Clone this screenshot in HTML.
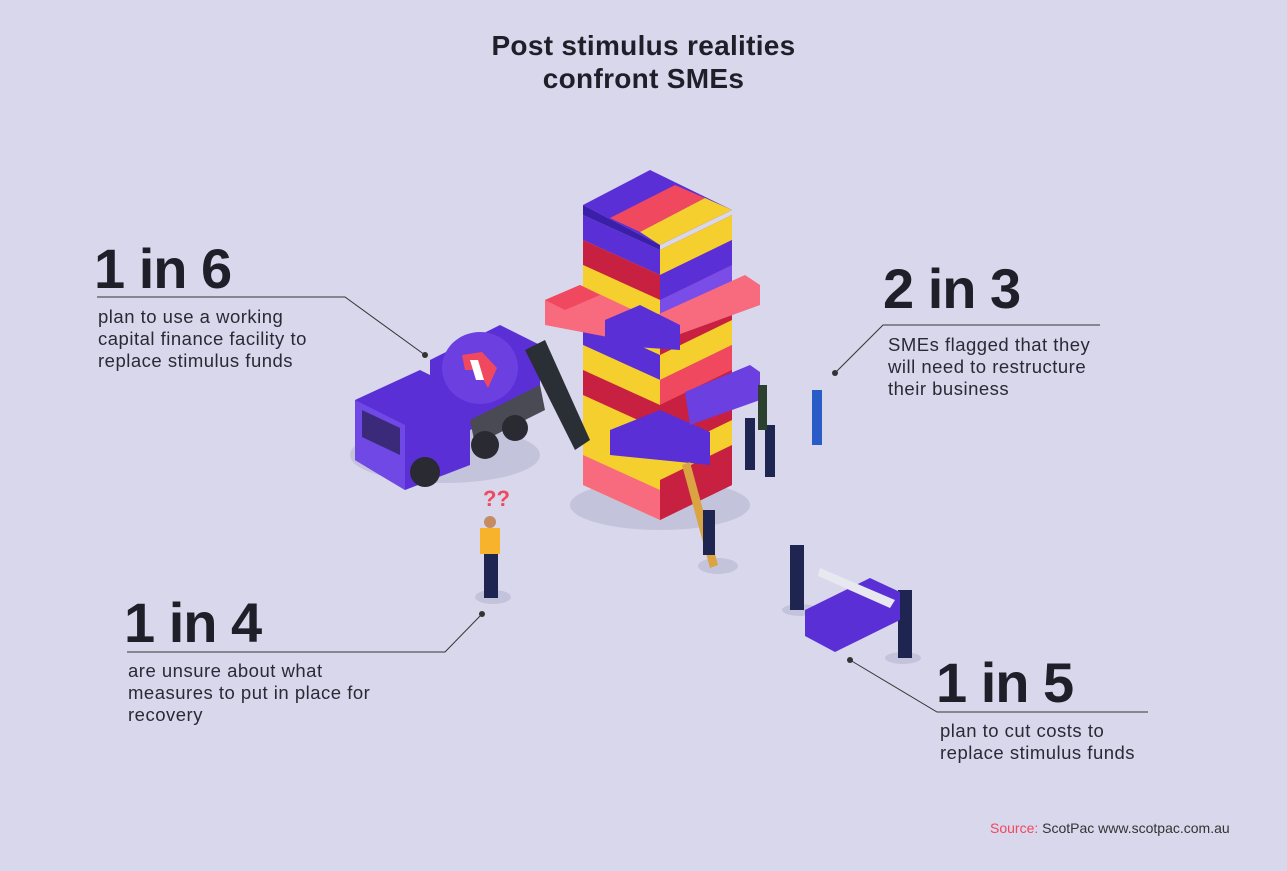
<!DOCTYPE html>
<html><head><meta charset="utf-8"><style>
body{margin:0;width:1287px;height:871px;background:#d8d7ec;font-family:"Liberation Sans",sans-serif;overflow:hidden;position:relative;color:#222}
.t{position:absolute;left:0;width:1287px;text-align:center;top:29px;font-size:28px;font-weight:bold;line-height:33px;color:#1f1f2a;letter-spacing:0.3px}
.n{position:absolute;font-size:56px;font-weight:bold;color:#1f1f2a;letter-spacing:-1px;line-height:54px}
.p{position:absolute;font-size:18.5px;line-height:22px;color:#2a2a35;letter-spacing:0.5px}
.s{position:absolute;left:990px;top:820px;font-size:14px;color:#333}
</style></head><body>
<div class="t">Post stimulus realities<br>confront SMEs</div>
<div class="n" style="left:94px;top:242px">1 in 6</div>
<div class="p" style="left:98px;top:306px">plan to use a working<br>capital finance facility to<br>replace stimulus funds</div>
<div class="n" style="left:883px;top:262px">2 in 3</div>
<div class="p" style="left:888px;top:334px">SMEs flagged that they<br>will need to restructure<br>their business</div>
<div class="n" style="left:124px;top:596px">1 in 4</div>
<div class="p" style="left:128px;top:660px">are unsure about what<br>measures to put in place for<br>recovery</div>
<div class="n" style="left:936px;top:656px">1 in 5</div>
<div class="p" style="left:940px;top:720px">plan to cut costs to<br>replace stimulus funds</div>
<div class="s"><span style="color:#f0485f">Source:</span> ScotPac www.scotpac.com.au</div>
<svg width="1287" height="871" style="position:absolute;left:0;top:0">
<g stroke="#333" stroke-width="1" fill="none">
<polyline points="97,297 345,297 425,355"/>
<polyline points="1100,325 883,325 835,373"/>
<polyline points="127,652 445,652 482,614"/>
<polyline points="1148,712 937,712 850,660"/>
</g>
<g fill="#333"><circle cx="425" cy="355" r="3"/><circle cx="835" cy="373" r="3"/><circle cx="482" cy="614" r="3"/><circle cx="850" cy="660" r="3"/></g>
<ellipse cx="660" cy="505" rx="90" ry="25" fill="#c4c3dc"/>
<ellipse cx="445" cy="455" rx="95" ry="28" fill="#c4c3dc"/>
<g id="tw">
<polygon points="583,215 660,250 660,520 583,485" fill="#f5cf2e"/>
<polygon points="660,250 732,215 732,485 660,520" fill="#c82040"/>
<polygon points="583,215 660,250 660,275 583,240" fill="#5a2fd6"/>
<polygon points="660,250 732,215 732,240 660,275" fill="#f5cf2e"/>
<polygon points="583,240 660,275 660,300 583,265" fill="#c82040"/>
<polygon points="660,275 732,240 732,265 660,300" fill="#5a2fd6"/>
<polygon points="583,265 660,300 660,330 583,295" fill="#f5cf2e"/>
<polygon points="660,300 732,265 732,295 660,330" fill="#7a4de8"/>
<polygon points="583,320 660,355 660,380 583,345" fill="#5a2fd6"/>
<polygon points="660,355 732,320 732,345 660,380" fill="#f5cf2e"/>
<polygon points="583,345 660,380 660,405 583,370" fill="#f5cf2e"/>
<polygon points="660,380 732,345 732,370 660,405" fill="#f0485f"/>
<polygon points="583,370 660,405 660,430 583,395" fill="#c82040"/>
<polygon points="660,405 732,370 732,395 660,430" fill="#c82040"/>
<polygon points="583,420 660,455 660,480 583,445" fill="#f5cf2e"/>
<polygon points="660,455 732,420 732,445 660,480" fill="#f5cf2e"/>
<polygon points="583,455 660,490 660,520 583,485" fill="#f86a7d"/>
<polygon points="660,490 732,455 732,485 660,520" fill="#c82040"/>
<polygon points="583,205 650,170 732,210 660,245" fill="#5a2fd6"/>
<polygon points="610,218 675,185 705,198 640,232" fill="#f0485f"/>
<polygon points="640,232 705,198 732,210 660,245" fill="#f5cf2e"/>
<polygon points="583,205 660,245 660,250 583,215" fill="#3a1faa"/>
<polygon points="545,300 580,285 650,318 650,345 545,325" fill="#f86a7d"/>
<polygon points="650,318 745,275 760,285 760,305 650,345" fill="#f86a7d"/>
<polygon points="545,300 580,285 600,295 565,310" fill="#f0485f"/>
<polygon points="605,320 640,305 680,325 680,350 605,345" fill="#5a2fd6"/>
<polygon points="610,430 660,410 710,432 710,465 610,455" fill="#5a2fd6"/>
<polygon points="685,392 750,365 760,372 760,400 690,425" fill="#6b3fe0"/>
</g>
<polygon points="355,400 420,370 470,395 470,465 405,490 355,460" fill="#5a2fd6"/>
<polygon points="355,400 405,425 405,490 355,460" fill="#7048e6"/>
<polygon points="362,410 400,428 400,455 362,437" fill="#3b2a7a"/>
<polygon points="430,360 500,325 540,345 540,400 470,430 430,410" fill="#5a2fd6"/>
<ellipse cx="480" cy="368" rx="38" ry="36" fill="#6b3fe0"/>
<polygon points="462,355 482,352 497,368 488,388 478,370 465,370" fill="#f0485f"/>
<polygon points="470,360 478,360 484,380 476,380" fill="#fff"/>
<polygon points="470,420 540,385 545,410 475,445" fill="#4a4a55"/>
<circle cx="425" cy="472" r="15" fill="#2a2a33"/><circle cx="485" cy="445" r="14" fill="#2a2a33"/><circle cx="515" cy="428" r="13" fill="#2a2a33"/>
<polygon points="525,350 545,340 590,440 575,450" fill="#2a2f35"/>
<g fill="#1e2550">
<ellipse cx="493" cy="597" rx="18" ry="7" fill="#c4c3dc"/>
<rect x="484" y="550" width="14" height="48"/>
<rect x="480" y="528" width="20" height="26" fill="#f7b32b"/>
<circle cx="490" cy="522" r="6" fill="#c58b63"/>
<text x="483" y="506" font-size="22" font-weight="bold" fill="#f0485f" font-family="Liberation Sans">??</text>
<rect x="745" y="418" width="10" height="52"/><rect x="765" y="425" width="10" height="52"/><rect x="758" y="385" width="9" height="45" fill="#2c4030"/>
<rect x="812" y="390" width="10" height="55" fill="#2a5cc8"/>
<ellipse cx="718" cy="566" rx="20" ry="8" fill="#c4c3dc"/>
<polygon points="682,465 690,462 718,565 710,568" fill="#d9a441"/>
<rect x="703" y="510" width="12" height="45"/>
<ellipse cx="800" cy="610" rx="18" ry="6" fill="#c4c3dc"/>
<rect x="790" y="545" width="14" height="65"/>
<ellipse cx="903" cy="658" rx="18" ry="6" fill="#c4c3dc"/>
<rect x="898" y="590" width="14" height="68"/>
<polygon points="805,610 870,578 900,592 900,620 835,652 805,636" fill="#5a2fd6"/>
<polygon points="820,568 895,600 890,608 818,576" fill="#e8e8f0"/>
</g>
</svg>
</body></html>
